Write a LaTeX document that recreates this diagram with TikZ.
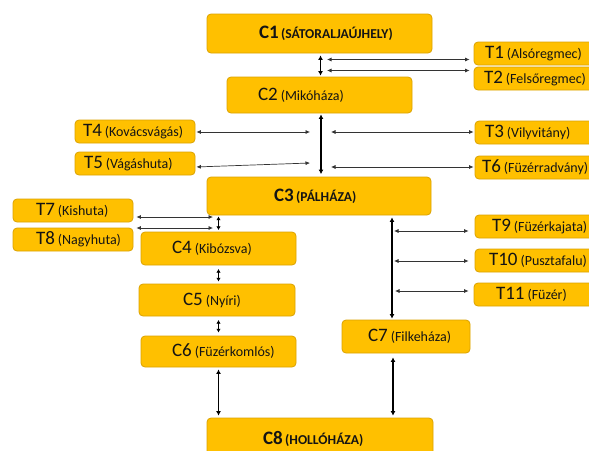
\documentclass[tikz,border=0pt]{standalone}
\usepackage{fontspec}
\setmainfont{Carlito}
\usetikzlibrary{arrows.meta}
\definecolor{boxfill}{HTML}{FFC000}
\definecolor{boxline}{HTML}{DBA200}
\definecolor{ink}{HTML}{141414}
\newcommand\nlab[2]{{\fontsize{19}{21}\selectfont #1}\hspace{0.3em}{\fontsize{14}{16}\selectfont (#2)}}
\newcommand\blab[2]{\bfseries{\fontsize{19}{21}\selectfont #1}\hspace{0.25em}{\fontsize{13.6}{16}\selectfont (#2)}}
\newcommand\placed[3]{\makebox[#1pt][l]{\hspace*{#2pt}#3}}
\tikzset{
  box/.style={draw=boxline, fill=boxfill, rounded corners=4pt, line width=0.8pt,
    inner sep=0pt, text=ink, anchor=center},
  bx/.style n args={2}{minimum width=#1pt, minimum height=#2pt},
  bigarr/.style={line width=1.3pt, draw=black,
    {Latex[length=4.5pt,width=5pt]}-{Latex[length=4.5pt,width=5pt]}},
  medarr/.style={line width=1.1pt, draw=black,
    {Latex[length=3.8pt,width=4.5pt]}-{Latex[length=3.8pt,width=4.5pt]}},
  thinarr/.style={line width=0.7pt, draw=black!80,
    {Latex[length=4.5pt,width=4pt]}-{Latex[length=4.5pt,width=4pt]}},
}
\begin{document}
\begin{tikzpicture}[x=1pt, y=-1pt]
\clip (0,0) rectangle (589,450);
\fill[white] (0,0) rectangle (589,450);
% boxes
\node[box, bx={225}{39}] (C1) at (319.5,33.5) {\placed{225}{52}{\blab{C1}{SÁTORALJAÚJHELY}}};
\node[box, bx={126}{23}] (T1) at (537,53.5) {\placed{126}{11}{\nlab{T1}{Alsóregmec}}};
\node[box, bx={126}{23}] (T2) at (537,78.5) {\placed{126}{10}{\nlab{T2}{Felsőregmec}}};
\node[box, bx={185}{36}] (C2) at (319.5,95) {\placed{185}{31}{\nlab{C2}{Mikóháza}}};
\node[box, bx={120}{23}] (T4) at (135,131.5) {\placed{120}{8}{\nlab{T4}{Kovácsvágás}}};
\node[box, bx={120}{23}] (T5) at (135,163.5) {\placed{120}{9}{\nlab{T5}{Vágáshuta}}};
\node[box, bx={125}{23}] (T3) at (537.5,132.5) {\placed{125}{10}{\nlab{T3}{Vilyvitány}}};
\node[box, bx={125}{23}] (T6) at (537.5,167.5) {\placed{125}{7}{\nlab{T6}{Füzérradvány}}};
\node[box, bx={224}{38}] (C3) at (319,196) {\placed{224}{67}{\blab{C3}{PÁLHÁZA}}};
\node[box, bx={120}{23}] (T7) at (73,210.5) {\placed{120}{23}{\nlab{T7}{Kishuta}}};
\node[box, bx={120}{23}] (T8) at (73,239.5) {\placed{120}{23}{\nlab{T8}{Nagyhuta}}};
\node[box, bx={155}{33}] (C4) at (218.5,248.5) {\placed{155}{31}{\nlab{C4}{Kibózsva}}};
\node[box, bx={156}{32}] (C5) at (217,300) {\placed{156}{44}{\nlab{C5}{Nyíri}}};
\node[box, bx={155}{31}] (C6) at (218.5,351.5) {\placed{155}{31}{\nlab{C6}{Füzérkomlós}}};
\node[box, bx={125}{23}] (T9) at (537.5,226.5) {\placed{125}{17}{\nlab{T9}{Füzérkajata}}};
\node[box, bx={125}{23}] (T10) at (537.5,260.5) {\placed{125}{14}{\nlab{T10}{Pusztafalu}}};
\node[box, bx={126}{23}] (T11) at (537,294.5) {\placed{126}{22}{\nlab{T11}{Füzér}}};
\node[box, bx={128}{33}] (C7) at (406,336.5) {\placed{128}{26}{\nlab{C7}{Filkeháza}}};
\node[box, bx={226}{42}] (C8) at (320,439) {\placed{226}{56}{\blab{C8}{HOLLÓHÁZA}}};
% helper coordinates
\coordinate (v12) at (320.5,0);
\coordinate (v23) at (321,0);
\coordinate (v34) at (218.5,0);
\coordinate (v37) at (392,0);
\coordinate (v78) at (393,0);
\coordinate (p1) at (327,59.5);
\coordinate (p2) at (327,70.5);
\coordinate (p4) at (310,132);
\coordinate (p5) at (310,163);
\coordinate (p3) at (331,132);
\coordinate (p6) at (331,167);
\coordinate (p7) at (213,217);
\coordinate (p8) at (213,228);
\coordinate (p9) at (394,231);
\coordinate (p10) at (394,261);
\coordinate (p11) at (395,291);
% connectors
\draw[bigarr, shorten <=2pt, shorten >=1pt] (C1.south -| v12) -- (C2.north -| v12);
\draw[thinarr, shorten >=4pt] (p1) -- (p1 -| T1.west);
\draw[thinarr, shorten >=4pt] (p2) -- (p2 -| T2.west);
\draw[bigarr, shorten <=1pt, shorten >=2.5pt] (C2.south -| v23) -- (C3.north -| v23);
\draw[thinarr, shorten <=1pt] (T4.east |- p4) -- (p4);
\draw[thinarr, shorten <=1pt] ([yshift=-3.5pt]T5.east) -- (p5);
\draw[thinarr, shorten >=1pt] (p3) -- (p3 -| T3.west);
\draw[thinarr, shorten >=1pt] (p6) -- (p6 -| T6.west);
\draw[medarr, shorten <=1pt, shorten >=1.5pt] (C3.south -| v34) -- (C4.north -| v34);
\draw[thinarr, shorten <=3pt] (T7.east |- p7) -- (p7);
\draw[thinarr, shorten <=3pt] (T8.east |- p8) -- (p8);
\draw[medarr, shorten <=3.5pt, shorten >=2pt] (C4.south) -- (C5.north -| C4.south);
\draw[medarr, shorten <=3.5pt, shorten >=3pt] (C5.south -| C6.north) -- (C6.north);
\draw[bigarr, shorten <=2pt, shorten >=2pt] (C6.south) -- (C6.south |- C8.north);
\draw[bigarr, shorten <=2pt, shorten >=1pt] (C3.south -| v37) -- (C7.north -| v37);
\draw[thinarr, shorten >=6pt] (p9) -- (p9 -| T9.west);
\draw[thinarr, shorten >=6pt] (p10) -- (p10 -| T10.west);
\draw[thinarr, shorten >=5pt] (p11) -- (p11 -| T11.west);
\draw[bigarr, shorten <=4pt, shorten >=2pt] (C7.south -| v78) -- (C8.north -| v78);
\end{tikzpicture}
\end{document}
